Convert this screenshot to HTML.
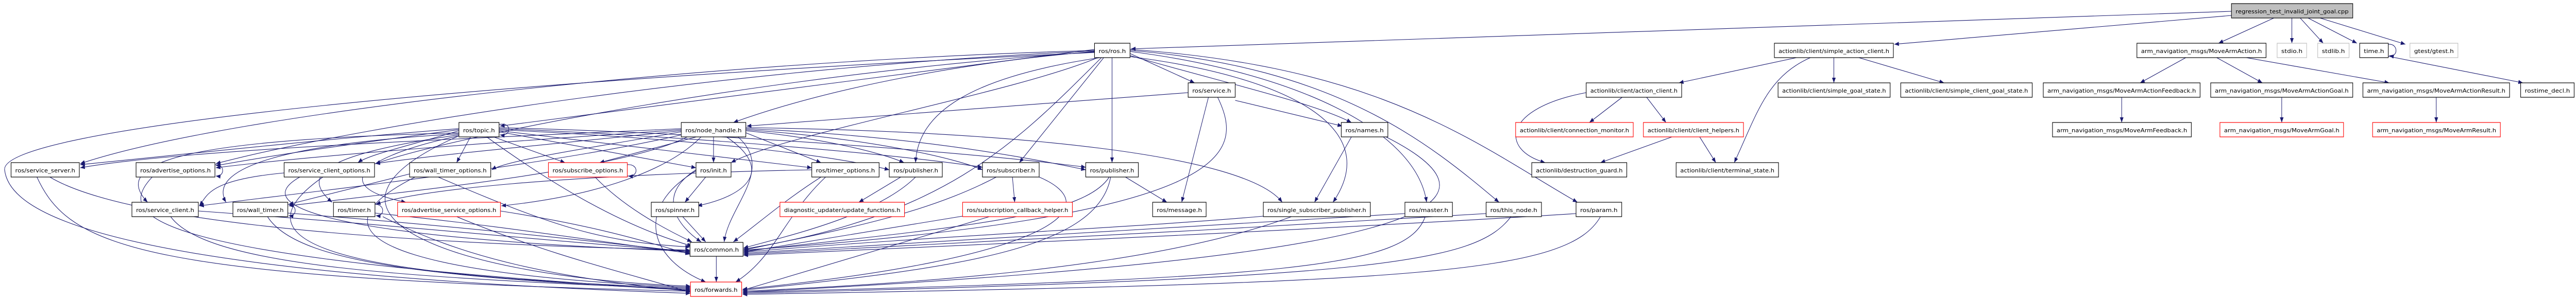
<!DOCTYPE html>
<html><head><meta charset="utf-8"><style>
html,body{margin:0;padding:0;background:#fff;overflow:hidden;}
svg{display:block;width:100vw;height:581px;}
text{font-family:"DejaVu Sans","Liberation Sans",sans-serif;font-size:11px;fill:#000;}
.e{fill:none;stroke:#191970;stroke-width:1.1;marker-end:url(#a);}
.n rect{fill:#fff;stroke:#000;stroke-width:1.2;}
.n.r rect{stroke:#ff0000;}
.n.g rect{stroke:#bfbfbf;}
</style></head><body>
<svg viewBox="0 0 5585 581" preserveAspectRatio="none" xmlns="http://www.w3.org/2000/svg">
<defs><marker id="a" markerUnits="userSpaceOnUse" markerWidth="12" markerHeight="10" refX="10" refY="4" orient="auto"><path d="M0 0 L10 4 L0 8 z" fill="#191970"/></marker></defs>
<g>
<path class="e" d="M4838 22 L2452 95"/>
<path class="e" d="M4838 30 L4107 86"/>
<path class="e" d="M4930 35 L4810 84"/>
<path class="e" d="M4969 35 L4969 84"/>
<path class="e" d="M4987 35 L5037 84"/>
<path class="e" d="M5004 35 L5110 84"/>
<path class="e" d="M5030 35 L5215 86"/>
<path class="e" d="M5178 86 C5200 84, 5200 112, 5180 108"/>
<path class="e" d="M5170 108 L5470 161"/>
<path class="e" d="M3895 112 L3640 161"/>
<path class="e" d="M3976 112 L3976 161"/>
<path class="e" d="M4030 112 L4215 161"/>
<path class="e" d="M3925 112 C3830 150, 3810 220, 3760 316"/>
<path class="e" d="M3517 189 L3446 238"/>
<path class="e" d="M3570 189 L3612 238"/>
<path class="e" d="M3439 180 C3260 210, 3250 290, 3350 316"/>
<path class="e" d="M3625 266 L3470 316"/>
<path class="e" d="M3685 266 L3720 316"/>
<path class="e" d="M4739 112 L4640 161"/>
<path class="e" d="M4806 112 L4905 161"/>
<path class="e" d="M4870 112 L5180 161"/>
<path class="e" d="M4600 189 L4600 238"/>
<path class="e" d="M4947 189 L4947 238"/>
<path class="e" d="M5282 189 L5282 238"/>
<path class="e" d="M2373 96 L1084 245"/>
<path class="e" d="M2373 100 C2100 120, 1800 170, 1590 238"/>
<path class="e" d="M2373 98 C1500 120, 500 220, 174 318"/>
<path class="e" d="M2373 99 C1600 130, 800 240, 468 318"/>
<path class="e" d="M2373 101 C1700 140, 1000 260, 814 318"/>
<path class="e" d="M2380 112 C2200 180, 1700 260, 1585 316"/>
<path class="e" d="M2385 112 C2100 150, 1990 220, 1985 316"/>
<path class="e" d="M2393 112 L2210 316"/>
<path class="e" d="M2411 112 L2411 316"/>
<path class="e" d="M2450 104 L2590 161"/>
<path class="e" d="M2450 108 C2650 160, 2850 200, 2930 238"/>
<path class="e" d="M2450 110 C2800 150, 3000 250, 2890 393"/>
<path class="e" d="M2450 100 C2800 140, 3070 250, 3093 393"/>
<path class="e" d="M2450 98 C2900 130, 3100 280, 3250 393"/>
<path class="e" d="M2450 96 C3000 130, 3200 280, 3420 393"/>
<path class="e" d="M2388 112 C2200 280, 2050 420, 1612 484"/>
<path class="e" d="M2373 102 C1000 160, 0 250, 10 330 S200 530, 1497 570"/>
<path class="e" d="M2576 180 L1619 245"/>
<path class="e" d="M2620 189 L2562 393"/>
<path class="e" d="M2640 189 C2700 300, 2680 420, 1612 486"/>
<path class="e" d="M2678 195 L2910 245"/>
<path class="e" d="M1477 250 C1000 270, 400 290, 174 326"/>
<path class="e" d="M1477 252 C1100 275, 700 300, 468 326"/>
<path class="e" d="M1477 254 C1200 280, 950 300, 814 318"/>
<path class="e" d="M1477 256 C1300 285, 1100 310, 1066 330"/>
<path class="e" d="M1510 266 L1300 316"/>
<path class="e" d="M1477 262 C1200 320, 700 370, 432 400"/>
<path class="e" d="M1490 266 C1350 330, 900 370, 626 400"/>
<path class="e" d="M1520 266 C1450 330, 1300 380, 1087 400"/>
<path class="e" d="M1547 266 L1547 316"/>
<path class="e" d="M1575 266 C1680 330, 1620 380, 1512 400"/>
<path class="e" d="M1600 266 C1680 330, 1580 400, 1570 470"/>
<path class="e" d="M1617 258 L1780 316"/>
<path class="e" d="M1617 254 C1800 270, 1920 300, 1960 316"/>
<path class="e" d="M1617 252 C1900 270, 2080 310, 2130 330"/>
<path class="e" d="M1617 250 C2000 265, 2250 310, 2354 330"/>
<path class="e" d="M1617 248 C2200 255, 2700 300, 2780 393"/>
<path class="e" d="M995 250 C700 270, 400 300, 174 320"/>
<path class="e" d="M995 252 C800 275, 600 300, 468 322"/>
<path class="e" d="M995 254 C900 280, 800 300, 776 316"/>
<path class="e" d="M1020 266 L990 316"/>
<path class="e" d="M995 258 C500 270, 220 300, 320 393"/>
<path class="e" d="M995 260 C600 280, 450 330, 490 393"/>
<path class="e" d="M995 262 C700 300, 650 340, 720 393"/>
<path class="e" d="M995 264 C800 300, 700 360, 880 393"/>
<path class="e" d="M1070 266 L1225 316"/>
<path class="e" d="M1082 256 L1509 326"/>
<path class="e" d="M1082 254 L1760 326"/>
<path class="e" d="M1082 252 C1500 270, 1800 300, 1928 330"/>
<path class="e" d="M1082 250 C1500 265, 1950 300, 2130 325"/>
<path class="e" d="M1082 248 C1600 260, 2150 300, 2354 325"/>
<path class="e" d="M1055 266 C1200 360, 1350 440, 1500 478"/>
<path class="e" d="M1082 242 C1110 236, 1110 266, 1084 262"/>
<path class="e" d="M995 264 C600 420, 1000 540, 1497 556"/>
<path class="e" d="M616 336 C450 350, 450 380, 432 400"/>
<path class="e" d="M888 338 L626 397"/>
<path class="e" d="M1760 330 C1200 340, 900 370, 815 397"/>
<path class="e" d="M466 320 C488 318, 488 344, 468 342"/>
<path class="e" d="M1360 320 C1385 318, 1385 344, 1362 342"/>
<path class="e" d="M624 397 C645 397, 645 421, 626 419"/>
<path class="e" d="M813 397 C835 397, 835 421, 815 419"/>
<path class="e" d="M1953 344 L1862 393"/>
<path class="e" d="M2195 344 L2200 393"/>
<path class="e" d="M2160 344 C2000 420, 1800 450, 1612 486"/>
<path class="e" d="M2253 344 C2400 400, 2300 500, 1610 562"/>
<path class="e" d="M2440 344 L2530 393"/>
<path class="e" d="M2405 344 C2350 420, 2100 440, 1612 488"/>
<path class="e" d="M2408 344 C2380 480, 2100 520, 1610 564"/>
<path class="e" d="M2087 420 L1612 490"/>
<path class="e" d="M2145 421 L1610 564"/>
<path class="e" d="M2739 420 C2500 440, 2000 460, 1612 490"/>
<path class="e" d="M2800 421 C2500 520, 2000 550, 1610 566"/>
<path class="e" d="M2930 266 L2850 393"/>
<path class="e" d="M3005 266 C3300 400, 3100 500, 1610 568"/>
<path class="e" d="M3046 415 C2600 440, 2000 470, 1612 492"/>
<path class="e" d="M3090 421 C3050 520, 2800 540, 1610 568"/>
<path class="e" d="M3222 415 C2700 445, 2000 475, 1612 494"/>
<path class="e" d="M3276 421 C3200 510, 3000 540, 1610 570"/>
<path class="e" d="M3417 415 C2800 450, 2000 480, 1612 496"/>
<path class="e" d="M3470 421 C3400 530, 3100 550, 1610 572"/>
<path class="e" d="M1780 344 C1700 390, 1650 430, 1590 470"/>
<path class="e" d="M1790 344 C1700 420, 1680 500, 1595 548"/>
<path class="e" d="M1985 344 C1900 420, 1700 460, 1612 482"/>
<path class="e" d="M1530 344 L1485 393"/>
<path class="e" d="M1509 330 C1420 380, 1470 440, 1520 470"/>
<path class="e" d="M1509 332 C1380 400, 1400 500, 1530 548"/>
<path class="e" d="M1480 421 L1530 470"/>
<path class="e" d="M1553 498 L1553 548"/>
<path class="e" d="M108 344 C250 420, 700 470, 1496 486"/>
<path class="e" d="M80 344 C150 480, 300 540, 1497 566"/>
<path class="e" d="M330 344 C250 420, 300 500, 1497 564"/>
<path class="e" d="M650 344 C500 420, 900 470, 1496 488"/>
<path class="e" d="M700 344 C450 500, 900 540, 1497 560"/>
<path class="e" d="M950 344 C1200 440, 1300 470, 1496 480"/>
<path class="e" d="M900 344 C600 480, 1000 540, 1497 558"/>
<path class="e" d="M430 410 C900 440, 1200 470, 1496 488"/>
<path class="e" d="M370 421 C450 520, 900 540, 1497 562"/>
<path class="e" d="M624 414 C1000 440, 1300 470, 1496 490"/>
<path class="e" d="M580 421 C650 520, 1000 540, 1497 564"/>
<path class="e" d="M813 414 C1100 440, 1300 470, 1496 492"/>
<path class="e" d="M830 421 C1000 500, 1200 540, 1497 566"/>
<path class="e" d="M1085 410 C1300 440, 1400 470, 1496 494"/>
<path class="e" d="M990 421 C1200 500, 1400 540, 1497 568"/>
<path class="e" d="M1290 344 C1350 400, 1430 440, 1500 470"/>
</g>
<g>
<g class="n"><rect x="4838" y="7" width="263" height="28" style="fill:#bfbfbf"/><text x="4847" y="26" textLength="245" lengthAdjust="spacingAndGlyphs">regression_test_invalid_joint_goal.cpp</text></g>
<g class="n"><rect x="2373" y="84" width="77" height="28"/><text x="2382" y="103" textLength="59" lengthAdjust="spacingAndGlyphs">ros/ros.h</text></g>
<g class="n"><rect x="3847" y="84" width="258" height="28"/><text x="3856" y="103" textLength="240" lengthAdjust="spacingAndGlyphs">actionlib/client/simple_action_client.h</text></g>
<g class="n"><rect x="4633" y="84" width="280" height="28"/><text x="4642" y="103" textLength="262" lengthAdjust="spacingAndGlyphs">arm_navigation_msgs/MoveArmAction.h</text></g>
<g class="n g"><rect x="4937" y="84" width="64" height="28"/><text x="4946" y="103" textLength="46" lengthAdjust="spacingAndGlyphs">stdio.h</text></g>
<g class="n g"><rect x="5025" y="84" width="68" height="28"/><text x="5034" y="103" textLength="50" lengthAdjust="spacingAndGlyphs">stdlib.h</text></g>
<g class="n"><rect x="5116" y="84" width="62" height="28"/><text x="5125" y="103" textLength="44" lengthAdjust="spacingAndGlyphs">time.h</text></g>
<g class="n g"><rect x="5225" y="84" width="104" height="28"/><text x="5234" y="103" textLength="86" lengthAdjust="spacingAndGlyphs">gtest/gtest.h</text></g>
<g class="n"><rect x="2576" y="161" width="102" height="28"/><text x="2585" y="180" textLength="84" lengthAdjust="spacingAndGlyphs">ros/service.h</text></g>
<g class="n"><rect x="3439" y="161" width="207" height="28"/><text x="3448" y="180" textLength="189" lengthAdjust="spacingAndGlyphs">actionlib/client/action_client.h</text></g>
<g class="n"><rect x="3855" y="161" width="243" height="28"/><text x="3864" y="180" textLength="225" lengthAdjust="spacingAndGlyphs">actionlib/client/simple_goal_state.h</text></g>
<g class="n"><rect x="4121" y="161" width="285" height="28"/><text x="4130" y="180" textLength="267" lengthAdjust="spacingAndGlyphs">actionlib/client/simple_client_goal_state.h</text></g>
<g class="n"><rect x="4430" y="161" width="340" height="28"/><text x="4439" y="180" textLength="322" lengthAdjust="spacingAndGlyphs">arm_navigation_msgs/MoveArmActionFeedback.h</text></g>
<g class="n"><rect x="4793" y="161" width="308" height="28"/><text x="4802" y="180" textLength="290" lengthAdjust="spacingAndGlyphs">arm_navigation_msgs/MoveArmActionGoal.h</text></g>
<g class="n"><rect x="5123" y="161" width="318" height="28"/><text x="5132" y="180" textLength="300" lengthAdjust="spacingAndGlyphs">arm_navigation_msgs/MoveArmActionResult.h</text></g>
<g class="n"><rect x="5465" y="161" width="116" height="28"/><text x="5474" y="180" textLength="98" lengthAdjust="spacingAndGlyphs">rostime_decl.h</text></g>
<g class="n"><rect x="995" y="238" width="87" height="28"/><text x="1004" y="257" textLength="69" lengthAdjust="spacingAndGlyphs">ros/topic.h</text></g>
<g class="n"><rect x="1477" y="238" width="140" height="28"/><text x="1486" y="257" textLength="122" lengthAdjust="spacingAndGlyphs">ros/node_handle.h</text></g>
<g class="n"><rect x="2908" y="238" width="101" height="28"/><text x="2917" y="257" textLength="83" lengthAdjust="spacingAndGlyphs">ros/names.h</text></g>
<g class="n r"><rect x="3286" y="238" width="255" height="28"/><text x="3295" y="257" textLength="237" lengthAdjust="spacingAndGlyphs">actionlib/client/connection_monitor.h</text></g>
<g class="n r"><rect x="3563" y="238" width="217" height="28"/><text x="3572" y="257" textLength="199" lengthAdjust="spacingAndGlyphs">actionlib/client/client_helpers.h</text></g>
<g class="n"><rect x="4450" y="238" width="301" height="28"/><text x="4459" y="257" textLength="283" lengthAdjust="spacingAndGlyphs">arm_navigation_msgs/MoveArmFeedback.h</text></g>
<g class="n r"><rect x="4813" y="238" width="268" height="28"/><text x="4822" y="257" textLength="250" lengthAdjust="spacingAndGlyphs">arm_navigation_msgs/MoveArmGoal.h</text></g>
<g class="n r"><rect x="5144" y="238" width="277" height="28"/><text x="5153" y="257" textLength="259" lengthAdjust="spacingAndGlyphs">arm_navigation_msgs/MoveArmResult.h</text></g>
<g class="n"><rect x="24" y="316" width="148" height="28"/><text x="33" y="335" textLength="130" lengthAdjust="spacingAndGlyphs">ros/service_server.h</text></g>
<g class="n"><rect x="295" y="316" width="171" height="28"/><text x="304" y="335" textLength="153" lengthAdjust="spacingAndGlyphs">ros/advertise_options.h</text></g>
<g class="n"><rect x="616" y="316" width="196" height="28"/><text x="625" y="335" textLength="178" lengthAdjust="spacingAndGlyphs">ros/service_client_options.h</text></g>
<g class="n"><rect x="888" y="316" width="176" height="28"/><text x="897" y="335" textLength="158" lengthAdjust="spacingAndGlyphs">ros/wall_timer_options.h</text></g>
<g class="n r"><rect x="1189" y="316" width="171" height="28"/><text x="1198" y="335" textLength="153" lengthAdjust="spacingAndGlyphs">ros/subscribe_options.h</text></g>
<g class="n"><rect x="1509" y="316" width="76" height="28"/><text x="1518" y="335" textLength="58" lengthAdjust="spacingAndGlyphs">ros/init.h</text></g>
<g class="n"><rect x="1760" y="316" width="146" height="28"/><text x="1769" y="335" textLength="128" lengthAdjust="spacingAndGlyphs">ros/timer_options.h</text></g>
<g class="n"><rect x="1928" y="316" width="115" height="28"/><text x="1937" y="335" textLength="97" lengthAdjust="spacingAndGlyphs">ros/publisher.h</text></g>
<g class="n"><rect x="2130" y="316" width="123" height="28"/><text x="2139" y="335" textLength="105" lengthAdjust="spacingAndGlyphs">ros/subscriber.h</text></g>
<g class="n"><rect x="2354" y="316" width="114" height="28"/><text x="2363" y="335" textLength="96" lengthAdjust="spacingAndGlyphs">ros/publisher.h</text></g>
<g class="n"><rect x="3321" y="316" width="206" height="28"/><text x="3330" y="335" textLength="188" lengthAdjust="spacingAndGlyphs">actionlib/destruction_guard.h</text></g>
<g class="n"><rect x="3634" y="316" width="222" height="28"/><text x="3643" y="335" textLength="204" lengthAdjust="spacingAndGlyphs">actionlib/client/terminal_state.h</text></g>
<g class="n"><rect x="286" y="393" width="144" height="28"/><text x="295" y="412" textLength="126" lengthAdjust="spacingAndGlyphs">ros/service_client.h</text></g>
<g class="n"><rect x="505" y="393" width="119" height="28"/><text x="514" y="412" textLength="101" lengthAdjust="spacingAndGlyphs">ros/wall_timer.h</text></g>
<g class="n"><rect x="723" y="393" width="90" height="28"/><text x="732" y="412" textLength="72" lengthAdjust="spacingAndGlyphs">ros/timer.h</text></g>
<g class="n r"><rect x="862" y="393" width="223" height="28"/><text x="871" y="412" textLength="205" lengthAdjust="spacingAndGlyphs">ros/advertise_service_options.h</text></g>
<g class="n"><rect x="1412" y="393" width="103" height="28"/><text x="1421" y="412" textLength="85" lengthAdjust="spacingAndGlyphs">ros/spinner.h</text></g>
<g class="n r"><rect x="1691" y="393" width="270" height="28"/><text x="1700" y="412" textLength="252" lengthAdjust="spacingAndGlyphs">diagnostic_updater/update_functions.h</text></g>
<g class="n r"><rect x="2087" y="393" width="238" height="28"/><text x="2096" y="412" textLength="220" lengthAdjust="spacingAndGlyphs">ros/subscription_callback_helper.h</text></g>
<g class="n"><rect x="2499" y="393" width="116" height="28"/><text x="2508" y="412" textLength="98" lengthAdjust="spacingAndGlyphs">ros/message.h</text></g>
<g class="n"><rect x="2739" y="393" width="232" height="28"/><text x="2748" y="412" textLength="214" lengthAdjust="spacingAndGlyphs">ros/single_subscriber_publisher.h</text></g>
<g class="n"><rect x="3046" y="393" width="103" height="28"/><text x="3055" y="412" textLength="85" lengthAdjust="spacingAndGlyphs">ros/master.h</text></g>
<g class="n"><rect x="3222" y="393" width="120" height="28"/><text x="3231" y="412" textLength="102" lengthAdjust="spacingAndGlyphs">ros/this_node.h</text></g>
<g class="n"><rect x="3417" y="393" width="99" height="28"/><text x="3426" y="412" textLength="81" lengthAdjust="spacingAndGlyphs">ros/param.h</text></g>
<g class="n"><rect x="1496" y="471" width="115" height="27"/><text x="1505" y="489" textLength="97" lengthAdjust="spacingAndGlyphs">ros/common.h</text></g>
<g class="n r"><rect x="1497" y="548" width="111" height="28"/><text x="1506" y="567" textLength="93" lengthAdjust="spacingAndGlyphs">ros/forwards.h</text></g>
</g>
</svg>
</body></html>
